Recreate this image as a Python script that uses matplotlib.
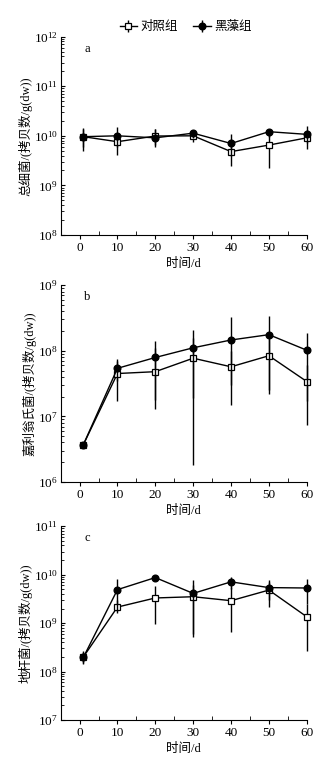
import matplotlib
matplotlib.use("Agg")
import matplotlib.pyplot as plt
import numpy as np
from matplotlib.ticker import LogLocator, NullFormatter, FixedLocator

plt.rcParams['font.family'] = ['Liberation Serif', 'Noto Sans CJK SC']
plt.rcParams['mathtext.fontset'] = 'stix'

days = [1, 10, 20, 30, 40, 50, 60]
xticks = [0, 10, 20, 30, 40, 50, 60]
labels = ["总细菌/(拷贝数/g(dw))", "嘉利翁氏菌/(拷贝数/g(dw))", "地杆菌/(拷贝数/g(dw))"]
letters = ["a", "b", "c"]
xlabel = "时间/d"
legend_names = ["对照组", "黑藻组"]
ylims = [(1e8, 1e12), (1e6, 1e9), (1e7, 1e11)]

# Panel a: total bacteria
a_ctrl = [9.6e9, 7.6e9, 9.9e9, 1.0e10, 4.8e9, 6.5e9, 9.1e9]
a_ctrl_lo = [5.0e9, 4.1e9, 6.0e9, 7.5e9, 2.5e9, 2.2e9, 5.4e9]
a_ctrl_hi = [1.4e10, 1.1e10, 1.35e10, 1.2e10, 7.5e9, 1.1e10, 1.3e10]
a_hz = [9.6e9, 1.0e10, 9.1e9, 1.13e10, 7.0e9, 1.21e10, 1.07e10]
a_hz_lo = [6.0e9, 6.0e9, 6.5e9, 9.0e9, 4.0e9, 9.5e9, 7.0e9]
a_hz_hi = [1.45e10, 1.5e10, 1.4e10, 1.3e10, 1.1e10, 1.4e10, 1.6e10]

# Panel b: Gallionella
b_ctrl = [3.7e6, 4.5e7, 4.8e7, 7.7e7, 5.7e7, 8.4e7, 3.4e7]
b_ctrl_lo = [3.5e6, 1.7e7, 1.3e7, 1.8e6, 1.5e7, 2.2e7, 7.4e6]
b_ctrl_hi = [3.9e6, 7.0e7, 1.1e8, 1.55e8, 1.0e8, 1.5e8, 6.1e7]
b_hz = [3.7e6, 5.4e7, 7.9e7, 1.11e8, 1.46e8, 1.76e8, 1.02e8]
b_hz_lo = [3.5e6, 3.5e7, 1.8e7, 1.9e7, 3.0e7, 2.5e7, 1.7e7]
b_hz_hi = [3.9e6, 7.4e7, 1.4e8, 2.1e8, 3.3e8, 3.4e8, 1.84e8]

# Panel c: Geobacter
c_ctrl = [2.0e8, 2.14e9, 3.3e9, 3.5e9, 2.9e9, 4.8e9, 1.35e9]
c_ctrl_lo = [1.4e8, 1.6e9, 9.4e8, 5.2e8, 6.6e8, 2.1e9, 2.7e8]
c_ctrl_hi = [2.6e8, 3.0e9, 5.8e9, 6.0e9, 5.5e9, 7.0e9, 2.5e9]
c_hz = [1.96e8, 4.9e9, 8.7e9, 4.1e9, 7.1e9, 5.4e9, 5.3e9]
c_hz_lo = [1.5e8, 1.8e9, 8.0e9, 6.0e8, 5.0e9, 3.0e9, 2.5e9]
c_hz_hi = [2.5e8, 8.1e9, 9.4e9, 7.7e9, 9.0e9, 7.9e9, 8.0e9]

panels = [
    (a_ctrl, a_ctrl_lo, a_ctrl_hi, a_hz, a_hz_lo, a_hz_hi),
    (b_ctrl, b_ctrl_lo, b_ctrl_hi, b_hz, b_hz_lo, b_hz_hi),
    (c_ctrl, c_ctrl_lo, c_ctrl_hi, c_hz, c_hz_lo, c_hz_hi),
]

fig = plt.figure(figsize=(3.26, 7.57), dpi=100)
rects = [
    [0.186, 0.6896, 0.755, 0.262],
    [0.186, 0.3633, 0.755, 0.260],
    [0.186, 0.0489, 0.755, 0.256],
]

handles = None
for i, (rect, data) in enumerate(zip(rects, panels)):
    ctrl, clo, chi, hz, hlo, hhi = data
    ax = fig.add_axes(rect)
    ax.set_yscale('log')
    ctrl = np.array(ctrl); clo = np.array(clo); chi = np.array(chi)
    hz = np.array(hz); hlo = np.array(hlo); hhi = np.array(hhi)
    e1 = ax.errorbar(days, ctrl, yerr=[ctrl - clo, chi - ctrl], color='black',
                     marker='s', mfc='white', mec='black', ms=4.2, mew=0.9, lw=1.0,
                     elinewidth=1.0, capsize=0, clip_on=False, zorder=3,
                     label=legend_names[0])
    e2 = ax.errorbar(days, hz, yerr=[hz - hlo, hhi - hz], color='black',
                     marker='o', mfc='black', mec='black', ms=4.8, lw=1.0,
                     elinewidth=1.0, capsize=0, clip_on=False, zorder=4,
                     label=legend_names[1])
    if handles is None:
        handles = [e1, e2]
    ax.set_xlim(-5, 60)
    ax.set_ylim(*ylims[i])
    ax.spines['top'].set_visible(False)
    ax.spines['right'].set_visible(False)
    ax.set_xticks(xticks)
    ax.xaxis.set_minor_locator(FixedLocator([5, 15, 25, 35, 45, 55]))
    ax.tick_params(axis='x', which='major', direction='out', length=3, labelsize=9.5, pad=2)
    ax.tick_params(axis='x', which='minor', direction='in', length=3)
    ax.yaxis.set_major_locator(LogLocator(base=10, numticks=20))
    ax.yaxis.set_minor_locator(LogLocator(base=10, subs=np.arange(2, 10), numticks=20))
    ax.yaxis.set_minor_formatter(NullFormatter())
    ax.tick_params(axis='y', which='major', direction='in', length=3, labelsize=9.5, pad=2)
    ax.tick_params(axis='y', which='minor', direction='in', length=2)
    ax.set_xlabel(xlabel, fontsize=9, labelpad=3)
    ax.set_ylabel(labels[i], fontsize=9, labelpad=1)
    ax.text(0.095, 0.94, letters[i], transform=ax.transAxes, fontsize=9,
            va='center', ha='left')

fig.legend(handles, legend_names, loc='center', bbox_to_anchor=(0.57, 0.964),
           ncol=2, frameon=False, fontsize=9, handlelength=1.4,
           handletextpad=0.3, columnspacing=1.2, borderaxespad=0)

fig.savefig("out.png", dpi=100)
